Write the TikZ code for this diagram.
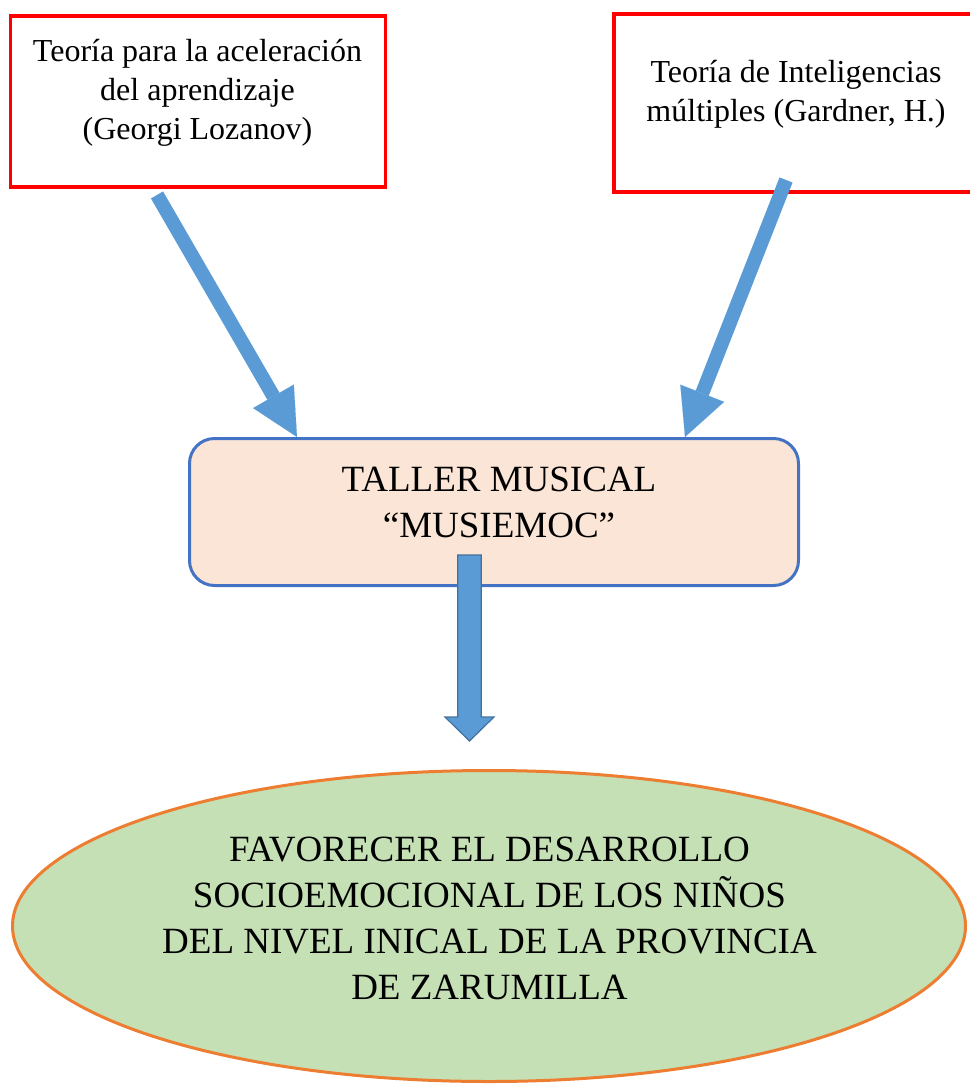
\documentclass[tikz,border=0pt]{standalone}
\usepackage{fontspec}
\setmainfont{Liberation Serif}
\usetikzlibrary{arrows.meta,calc,shapes.geometric}
\definecolor{redb}{HTML}{FF0000}
\definecolor{blueb}{HTML}{4472C4}
\definecolor{peach}{HTML}{FBE5D6}
\definecolor{greenf}{HTML}{C5E0B4}
\definecolor{orangeb}{HTML}{ED7D31}
\definecolor{arrowblue}{HTML}{5B9BD5}
\definecolor{arrowedge}{HTML}{41719C}
\begin{document}
\begin{tikzpicture}[x=1pt,y=-1pt,
  redbox/.style={draw=redb,line width=3.5pt,rectangle,inner sep=0pt},
  smalltext/.style={align=center,inner sep=0pt,font=\fontsize{32}{39}\selectfont},
  bigtext/.style={align=center,inner sep=0pt,font=\fontsize{37}{46}\selectfont},
  tallerbox/.style={draw=blueb,fill=peach,line width=3pt,rectangle,rounded corners=25pt,inner sep=0pt},
  goal/.style={draw=orangeb,fill=greenf,line width=3pt,ellipse,inner sep=0pt},
  fatarrow/.style={draw=arrowblue,line width=14pt,-{Triangle[length=47pt,width=47pt,line width=0.1pt]}},
  blockarrow/.style={fill=arrowblue,draw=arrowedge,line width=1.2pt,line join=miter}
]
\useasboundingbox (0,0) rectangle (969,1084);

% boxes
\node[redbox,minimum width=374.8pt,minimum height=171.2pt] (lbox) at (197.85,101.6) {};
\node[smalltext] (ltext) at (197.5,92.4) {Teoría para la aceleración\\del aprendizaje\\(Georgi Lozanov)};

\node[redbox,minimum width=371.25pt,minimum height=178.25pt] (rbox) at (799.4,103.1) {};
\node[smalltext] (rtext) at (796,94) {Teoría de Inteligencias\\múltiples (Gardner, H.)};

\node[tallerbox,minimum width=609pt,minimum height=147pt] (taller) at (494,512) {};
\node[bigtext] (ttext) at (499,502) {TALLER MUSICAL\\“MUSIEMOC”};

\node[goal,minimum width=953pt,minimum height=311pt] (goalnode) at (489,926) {};
\node[bigtext] (gtext) at (489.5,918.3) {FAVORECER EL DESARROLLO\\SOCIOEMOCIONAL DE LOS NIÑOS\\DEL NIVEL INICAL DE LA PROVINCIA\\DE ZARUMILLA};

% connectors
\coordinate (lstart) at ($(lbox.south west)+(148.3,6)$);
\coordinate (lend) at ($(taller.north west)+(109,0)$);
\coordinate (rstart) at ($(rbox.south west)+(174,-14)$);
\coordinate (rend) at ($(taller.north east)+(-115,0)$);
\draw[fatarrow] (lstart) -- (lend);
\draw[fatarrow] (rstart) -- (rend);

\coordinate (dtop) at ($(taller.south)+(-24.5,-32)$);
\draw[blockarrow] (dtop) ++(-11.75,0) -- ++(23.5,0) -- ++(0,162) -- ++(12.75,0) -- ++(-24.5,24) -- ++(-24.5,-24) -- ++(12.75,0) -- cycle;
\end{tikzpicture}
\end{document}
